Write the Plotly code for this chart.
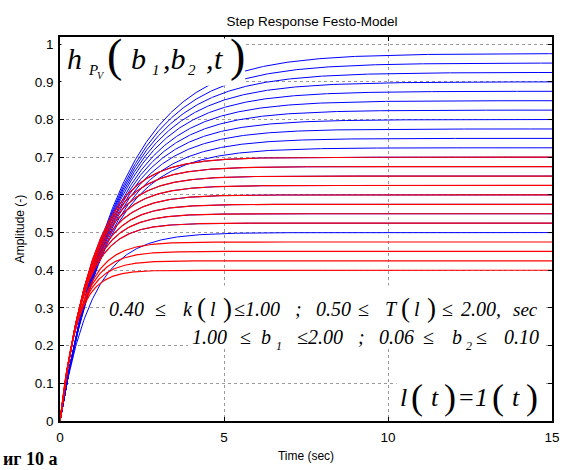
import numpy as np
import plotly.graph_objects as go

# ---- data ----
# blue family: final value (gain k) and time constant T [sec]
blue_k = [0.500, 0.525, 0.550, 0.575, 0.600, 0.625, 0.650, 0.675, 0.700, 0.725,
          0.750, 0.775, 0.800, 0.825, 0.850, 0.875, 0.900, 0.925, 0.950, 0.975]
blue_T = [0.95, 0.72, 0.77, 0.82, 0.86, 0.90, 0.95, 1.00, 1.05, 1.38,
          1.43, 1.47, 1.52, 1.57, 1.62, 1.66, 1.71, 1.76, 1.81, 1.85]
# red family
red_k = [0.400, 0.425, 0.450, 0.475, 0.525, 0.550, 0.575, 0.600, 0.625, 0.650, 0.675, 0.700]
red_T = [0.50, 0.55, 0.60, 0.65, 0.72, 0.77, 0.82, 0.86, 0.90, 0.95, 1.00, 1.05]

t_end = 15.0
x_ticks = [0, 5, 10, 15]
y_ticks = [0, 0.1, 0.2, 0.3, 0.4, 0.5, 0.6, 0.7, 0.8, 0.9, 1.0]
y_tick_labels = ["0", "0.1", "0.2", "0.3", "0.4", "0.5", "0.6", "0.7", "0.8", "0.9", "1"]

t = np.linspace(0, t_end, 601)

fig = go.Figure()
for k, T in zip(blue_k, blue_T):
    fig.add_trace(go.Scatter(x=t, y=k * (1 - np.exp(-t / T)), mode="lines",
                             line=dict(color="#0000ff", width=1), showlegend=False,
                             hoverinfo="skip"))
for k, T in zip(red_k, red_T):
    fig.add_trace(go.Scatter(x=t, y=k * (1 - np.exp(-t / T)), mode="lines",
                             line=dict(color="#ff0000", width=1.2), showlegend=False,
                             hoverinfo="skip"))

# ---- pixel helpers for layout (plot area: x 60..560, y 37..431) ----
L, R, TOP, BOT = 60, 560, 37, 431
def xp(px):
    return (px - L) / (R - L)
def yp(py):
    return (BOT - py) / (BOT - TOP)

shapes = []
def white_box(x0, y0, x1, y1):
    shapes.append(dict(type="rect", xref="paper", yref="paper",
                       x0=xp(x0), x1=xp(x1), y0=yp(y1), y1=yp(y0),
                       fillcolor="white", line=dict(width=0), layer="above"))

white_box(61.5, 38.5, 248, 87)
white_box(107, 292, 554, 326)
white_box(190, 326, 554, 357)
white_box(402, 382, 554, 422)

annots = []
def txt(s, x, base, size, italic=True, bold=False, family="Liberation Serif"):
    if italic:
        s = "<i>" + s + "</i>"
    if bold:
        s = "<b>" + s + "</b>"
    annots.append(dict(text=s, xref="paper", yref="paper", x=xp(x), y=yp(base - 0.34 * size),
                       xanchor="left", yanchor="middle", showarrow=False,
                       font=dict(family=family, size=size, color="black"),
                       borderpad=0))

# h_Pv(b1, b2, t)
bh = 69
txt("h", 66, bh, 30)
txt("P", 87, bh + 7, 15)
txt("V", 97, bh + 11, 10)
txt("(", 107, bh + 3, 46, italic=False)
txt("b", 131, bh, 30)
txt("1", 152, bh + 7, 15)
txt(",b", 164, bh, 30)
txt("2", 189, bh + 7, 15)
txt(",", 207, bh, 30)
txt("t", 215, bh, 30)
txt(")", 232, bh + 3, 46, italic=False)

# line 1
b1 = 323
txt("0.40", 109, b1, 20)
txt("\u2264", 156, b1, 20, italic=False)
txt("k", 184, b1, 20)
txt("(", 198, b1 + 1, 27, italic=False)
txt("l", 211, b1, 20)
txt(")", 225, b1 + 1, 27, italic=False)
txt("\u22641.00", 236, b1, 20)
txt(";", 298, b1, 20)
txt("0.50", 319, b1, 20)
txt("\u2264", 362, b1, 20, italic=False)
txt("T", 389, b1, 20)
txt("(", 406, b1 + 1, 27, italic=False)
txt("l", 419, b1, 20)
txt(")", 432, b1 + 1, 27, italic=False)
txt("\u2264", 447, b1, 20, italic=False)
txt("2.00,", 467, b1, 20)
txt("sec", 519, b1, 19)

# line 2
b2 = 352
txt("1.00", 193, b2, 20)
txt("\u2264", 242, b2, 20, italic=False)
txt("b", 263, b2, 20)
txt("1", 279, b2 + 6, 12)
txt("\u22642.00", 300, b2, 20)
txt(";", 362, b2, 20)
txt("0.06", 383, b2, 20)
txt("\u2264", 428, b2, 20, italic=False)
txt("b", 457, b2, 20)
txt("2", 472, b2 + 6, 12)
txt("\u2264", 482, b2, 20, italic=False)
txt("0.10", 510, b2, 20)

# l(t)=1(t)
b3 = 416
txt("l", 405, b3, 26)
txt("(", 416, b3 + 3, 36, italic=False)
txt("t", 436, b3, 26)
txt(")", 449, b3 + 3, 36, italic=False)
txt("=", 464, b3, 26, italic=False)
txt("1", 481, b3, 26)
txt("(", 498, b3 + 3, 36, italic=False)
txt("t", 518, b3, 26)
txt(")", 533, b3 + 3, 36, italic=False)

# caption fragment
txt("иг 10 а", 1, 476, 18, italic=False, bold=True)

fig.update_layout(
    width=569, height=470,
    margin=dict(l=L, r=569 - R, t=TOP, b=470 - BOT),
    paper_bgcolor="white", plot_bgcolor="white",
    title=dict(text="Step Response Festo-Model", x=(312) / 569, xanchor="center",
               y=1 - 21 / 470, yanchor="middle",
               font=dict(family="Liberation Sans", size=13.5, color="black")),
    font=dict(family="Liberation Sans", size=13.5, color="black"),
    shapes=shapes, annotations=annots,
)
fig.update_xaxes(range=[0, t_end], tickvals=x_ticks, ticktext=[str(v) for v in x_ticks],
                 showline=True, linecolor="black", linewidth=1.5, mirror="ticks",
                 ticks="inside", ticklen=4, tickcolor="black", ticklabelstandoff=3,
                 showgrid=True, gridcolor="#9a9a9a", griddash="dot", gridwidth=1,
                 zeroline=False,
                 title=dict(text="Time (sec)", font=dict(size=12), standoff=8))
fig.update_yaxes(range=[0, 1.019], tickvals=y_ticks, ticktext=y_tick_labels,
                 showline=True, linecolor="black", linewidth=1.5, mirror="ticks",
                 ticks="inside", ticklen=4, tickcolor="black", ticklabelstandoff=2,
                 showgrid=True, gridcolor="#9a9a9a", griddash="dot", gridwidth=1,
                 zeroline=False,
                 title=dict(text="Amplitude (-)", font=dict(size=12), standoff=8))

fig.write_html("out.html")
